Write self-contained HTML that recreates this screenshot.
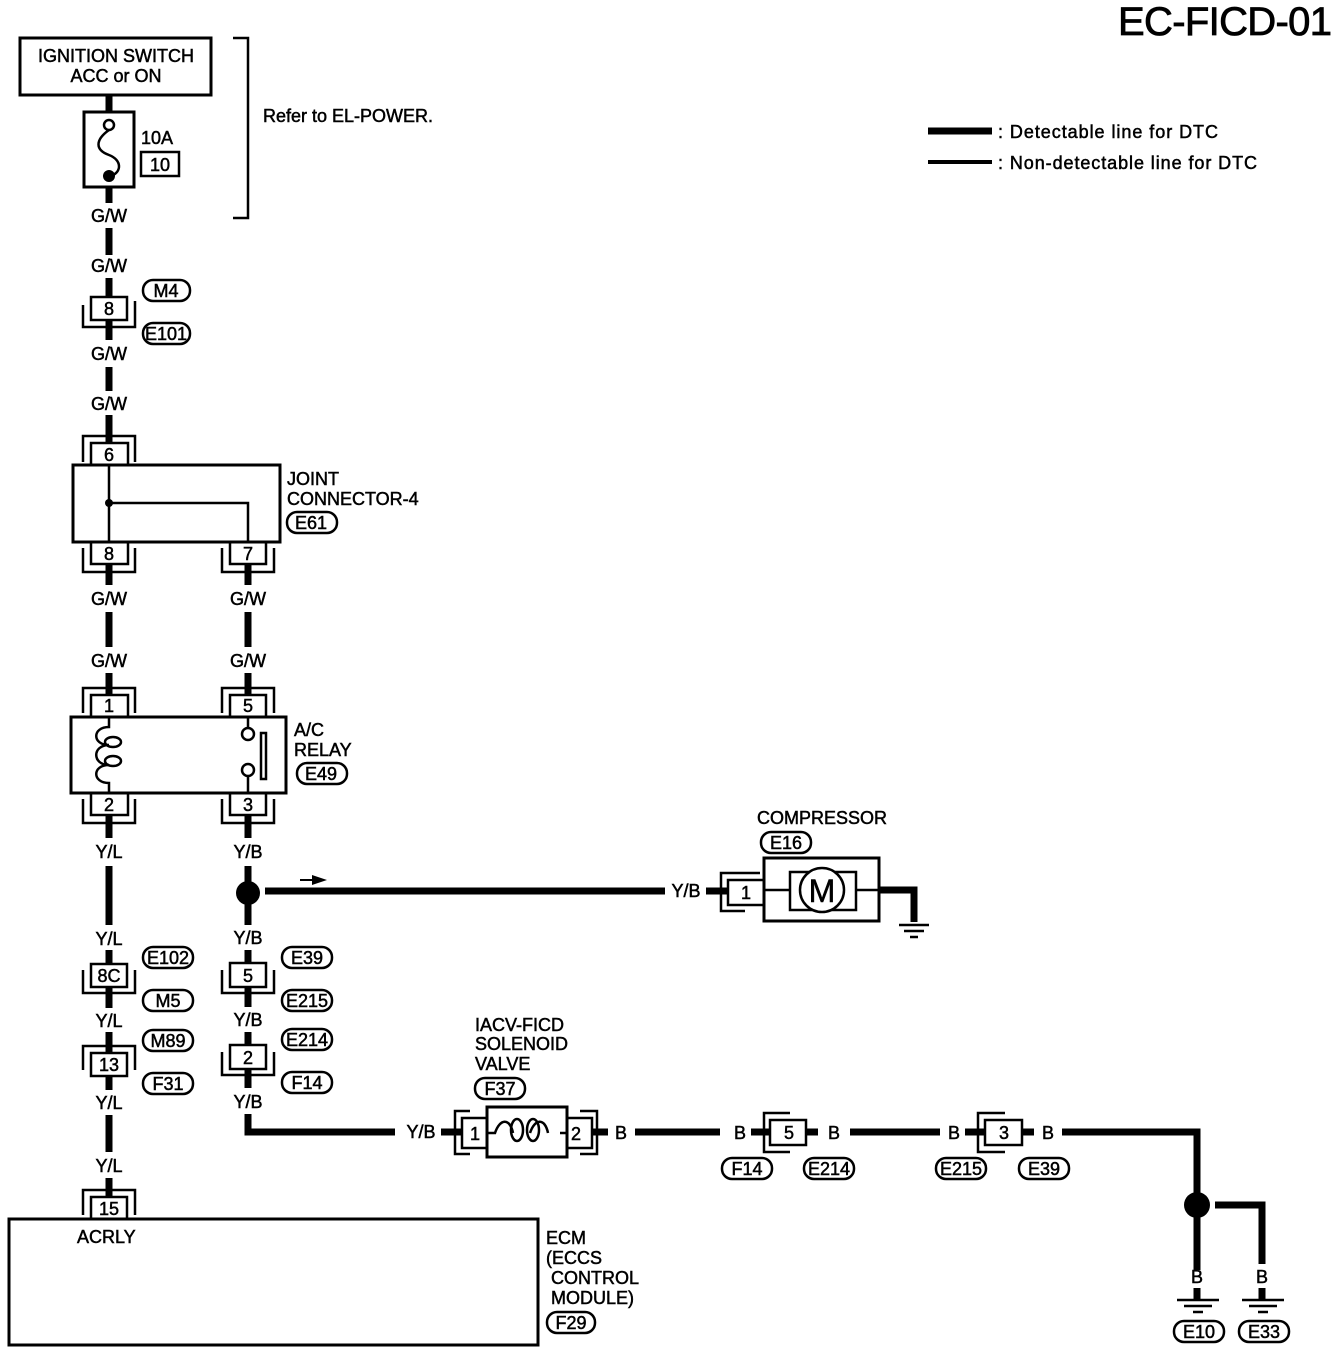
<!DOCTYPE html>
<html><head><style>
body{margin:0;background:#fff}
svg{display:block}
text{font-family:"Liberation Sans",sans-serif;font-size:18px;fill:#000;stroke:#000;stroke-width:0.5}
.t{text-anchor:middle}
</style></head><body>
<svg width="1344" height="1354" viewBox="0 0 1344 1354" xmlns="http://www.w3.org/2000/svg">
<g fill="none" stroke="#000" stroke-width="2.5">
<rect x="20" y="38" width="191" height="57" stroke-width="3"/>
<rect x="84" y="112" width="50" height="75" stroke-width="3"/>
<circle cx="109" cy="125" r="5"/>
<path d="M109 130 C95 140 95 150 109 155 C122 160 122 172 111 176"/>
<rect x="141" y="152" width="38" height="24"/>
<path d="M233 38 H248 V218 H233"/>
<rect x="91" y="297" width="36" height="23"/>
<path d="M83 305 V327 H135 V301"/>
<rect x="91" y="443" width="37" height="22"/>
<path d="M83 462 V436 H135 V462"/>
<rect x="73" y="465" width="207" height="77" stroke-width="3"/>
<path d="M109 465 V542 M109 503 H248 V542"/>
<rect x="91" y="542" width="37" height="22"/>
<path d="M83 548 V572 H135 V548"/>
<rect x="230" y="542" width="36" height="22"/>
<path d="M222 548 V572 H274 V548"/>
<rect x="91" y="695" width="37" height="22"/>
<path d="M83 713 V688 H135 V713"/>
<rect x="230" y="695" width="36" height="22"/>
<path d="M222 713 V688 H274 V713"/>
<rect x="71" y="717" width="215" height="76" stroke-width="3"/>
<path d="M109 717 V727 C92 727 92 745 109 745 C92 745 92 765 109 765 C92 765 92 783 109 783 V793"/>
<ellipse cx="113" cy="742" rx="8" ry="5"/><ellipse cx="113" cy="761" rx="8" ry="5"/>
<path d="M248 717 V728 M248 775 V793"/>
<circle cx="248" cy="734" r="6"/><circle cx="248" cy="770" r="6"/>
<rect x="261" y="733" width="5" height="46"/>
<rect x="91" y="793" width="37" height="22"/>
<path d="M83 799 V823 H135 V799"/>
<rect x="230" y="793" width="36" height="22"/>
<path d="M222 799 V823 H274 V799"/>
<rect x="91" y="964" width="36" height="23"/>
<path d="M83 970 V993 H135 V970"/>
<rect x="91" y="1053" width="36" height="23"/>
<path d="M83 1070 V1046 H135 V1070"/>
<rect x="91" y="1197" width="36" height="22"/>
<path d="M83 1215 V1190 H135 V1215"/>
<rect x="9" y="1219" width="529" height="126" stroke-width="3"/>
<rect x="230" y="963" width="36" height="24"/>
<path d="M222 970 V993 H274 V970"/>
<rect x="230" y="1045" width="36" height="24"/>
<path d="M222 1052 V1075 H274 V1052"/>
<rect x="728" y="880" width="36" height="25"/>
<path d="M760 873 H721 V911 H745"/>
<rect x="764" y="858" width="115" height="63" stroke-width="3"/>
<rect x="790" y="872" width="66" height="38"/>
<circle cx="822" cy="890" r="22" fill="#fff"/>
<path d="M764 890 H790 M856 890 H879"/>
<rect x="462" y="1118" width="25" height="30"/>
<path d="M470 1111 H455 V1154 H470"/>
<rect x="487" y="1107" width="80" height="50" stroke-width="3"/>
<path d="M487 1133 H495 C500 1118 510 1118 513 1133 M560 1133 H567 M548 1133 C545 1118 535 1118 530 1133"/>
<ellipse cx="517" cy="1130" rx="6" ry="11"/><ellipse cx="533" cy="1130" rx="6" ry="11"/>
<rect x="567" y="1118" width="25" height="30"/>
<path d="M580 1111 H597 V1154 H580"/>
<rect x="770" y="1120" width="36" height="25"/>
<path d="M790 1113 H764 V1152 H790"/>
<rect x="985" y="1120" width="37" height="25"/>
<path d="M1005 1113 H978 V1152 H1005"/>
<rect x="143" y="280" width="47" height="21" rx="10"/>
<rect x="143" y="323" width="47" height="21" rx="10"/>
<rect x="287" y="512" width="50" height="21" rx="10"/>
<rect x="297" y="763" width="50" height="21" rx="10"/>
<rect x="761" y="832" width="50" height="21" rx="10"/>
<rect x="143" y="947" width="50" height="21" rx="10"/>
<rect x="143" y="990" width="50" height="21" rx="10"/>
<rect x="143" y="1030" width="50" height="21" rx="10"/>
<rect x="143" y="1073" width="50" height="21" rx="10"/>
<rect x="282" y="947" width="50" height="21" rx="10"/>
<rect x="282" y="990" width="50" height="21" rx="10"/>
<rect x="282" y="1029" width="50" height="21" rx="10"/>
<rect x="282" y="1072" width="50" height="21" rx="10"/>
<rect x="475" y="1078" width="50" height="21" rx="10"/>
<rect x="722" y="1158" width="50" height="21" rx="10"/>
<rect x="804" y="1158" width="50" height="21" rx="10"/>
<rect x="936" y="1158" width="50" height="21" rx="10"/>
<rect x="1019" y="1158" width="50" height="21" rx="10"/>
<rect x="547" y="1312" width="48" height="21" rx="10"/>
<rect x="1174" y="1321" width="50" height="21" rx="10"/>
<rect x="1239" y="1321" width="50" height="21" rx="10"/>
<path d="M899 925 H929 M904 931 H924 M910 937 H918"/>
<path d="M1177 1300 H1219 M1184 1306 H1212 M1193 1312 H1203"/>
<path d="M1242 1300 H1284 M1249 1306 H1277 M1258 1312 H1268"/>
</g>
<g stroke="#000" stroke-width="7" fill="none">
<path d="M109 95 V112 M109 187 V203 M109 228 V255 M109 278 V297 M109 320 V340 M109 367 V391 M109 415 V443"/>
<path d="M109 565 V585 M109 612 V647 M109 673 V695 M248 565 V585 M248 612 V647 M248 673 V695"/>
<path d="M109 816 V838 M109 866 V925 M109 950 V964 M109 987 V1008 M109 1032 V1053 M109 1076 V1090 M109 1115 V1152 M109 1178 V1197"/>
<path d="M248 816 V838 M248 866 V925 M248 950 V963 M248 987 V1007 M248 1032 V1045 M248 1069 V1088"/>
<path d="M248 1114 V1132 H395 M265 891 H665 M706 891 H728 M879 890 H914 V922"/>
<path d="M441 1132 H462 M592 1132 H608 M635 1132 H720 M751 1132 H770 M806 1132 H818 M850 1132 H940 M965 1132 H985 M1022 1132 H1034 M1062 1132 H1197 V1270 M1215 1205 H1262 V1264"/>
<path d="M1197 1288 V1300 M1262 1288 V1300"/>
<path d="M928 131 H992"/>
</g>
<path d="M928 162 H992" stroke="#000" stroke-width="4"/>
<circle cx="109" cy="176" r="6"/>
<circle cx="109" cy="503" r="4"/>
<circle cx="248" cy="893" r="12"/>
<circle cx="1197" cy="1205" r="13"/>
<path d="M300 880 H315" stroke="#000" stroke-width="2"/>
<path d="M312 875 L327 880 L312 885 Z"/>
<text x="1118" y="35" style="font-size:40px;stroke-width:0.8" textLength="214">EC-FICD-01</text>
<text x="116" y="62" class="t">IGNITION SWITCH</text>
<text x="116" y="82" class="t">ACC or ON</text>
<text x="141" y="144">10A</text>
<text x="160" y="171" class="t">10</text>
<text x="263" y="122">Refer to EL-POWER.</text>
<text x="998" y="138" textLength="220">: Detectable line for DTC</text>
<text x="998" y="169" textLength="259">: Non-detectable line for DTC</text>
<g>
<text x="109" y="222" class="t">G/W</text>
<text x="109" y="272" class="t">G/W</text>
<text x="109" y="315" class="t">8</text>
<text x="109" y="360" class="t">G/W</text>
<text x="109" y="410" class="t">G/W</text>
<text x="109" y="461" class="t">6</text>
<text x="109" y="560" class="t">8</text>
<text x="248" y="560" class="t">7</text>
<text x="109" y="605" class="t">G/W</text>
<text x="248" y="605" class="t">G/W</text>
<text x="109" y="667" class="t">G/W</text>
<text x="248" y="667" class="t">G/W</text>
<text x="109" y="712" class="t">1</text>
<text x="248" y="712" class="t">5</text>
<text x="109" y="811" class="t">2</text>
<text x="248" y="811" class="t">3</text>
<text x="109" y="858" class="t">Y/L</text>
<text x="248" y="858" class="t">Y/B</text>
<text x="109" y="945" class="t">Y/L</text>
<text x="109" y="982" class="t">8C</text>
<text x="109" y="1027" class="t">Y/L</text>
<text x="109" y="1071" class="t">13</text>
<text x="109" y="1109" class="t">Y/L</text>
<text x="109" y="1172" class="t">Y/L</text>
<text x="109" y="1215" class="t">15</text>
<text x="248" y="944" class="t">Y/B</text>
<text x="248" y="982" class="t">5</text>
<text x="248" y="1026" class="t">Y/B</text>
<text x="248" y="1064" class="t">2</text>
<text x="248" y="1108" class="t">Y/B</text>
<text x="686" y="897" class="t">Y/B</text>
<text x="746" y="899" class="t">1</text>
<text x="822" y="902" class="t" style="font-size:32px">M</text>
<text x="421" y="1138" class="t">Y/B</text>
<text x="475" y="1140" class="t">1</text>
<text x="576" y="1140" class="t">2</text>
<text x="621" y="1139" class="t">B</text>
<text x="740" y="1139" class="t">B</text>
<text x="789" y="1139" class="t">5</text>
<text x="834" y="1139" class="t">B</text>
<text x="954" y="1139" class="t">B</text>
<text x="1004" y="1139" class="t">3</text>
<text x="1048" y="1139" class="t">B</text>
<text x="1197" y="1283" class="t">B</text>
<text x="1262" y="1283" class="t">B</text>
<text x="166" y="297" class="t">M4</text>
<text x="166" y="340" class="t">E101</text>
<text x="311" y="529" class="t">E61</text>
<text x="321" y="780" class="t">E49</text>
<text x="786" y="849" class="t">E16</text>
<text x="168" y="964" class="t">E102</text>
<text x="168" y="1007" class="t">M5</text>
<text x="168" y="1047" class="t">M89</text>
<text x="168" y="1090" class="t">F31</text>
<text x="307" y="964" class="t">E39</text>
<text x="307" y="1007" class="t">E215</text>
<text x="307" y="1046" class="t">E214</text>
<text x="307" y="1089" class="t">F14</text>
<text x="500" y="1095" class="t">F37</text>
<text x="747" y="1175" class="t">F14</text>
<text x="829" y="1175" class="t">E214</text>
<text x="961" y="1175" class="t">E215</text>
<text x="1044" y="1175" class="t">E39</text>
<text x="571" y="1329" class="t">F29</text>
<text x="1199" y="1338" class="t">E10</text>
<text x="1264" y="1338" class="t">E33</text>
</g>
<text x="287" y="485">JOINT</text>
<text x="287" y="505">CONNECTOR-4</text>
<text x="294" y="736">A/C</text>
<text x="294" y="756">RELAY</text>
<text x="757" y="824">COMPRESSOR</text>
<text x="475" y="1031">IACV-FICD</text>
<text x="475" y="1050">SOLENOID</text>
<text x="475" y="1070">VALVE</text>
<text x="77" y="1243">ACRLY</text>
<text x="546" y="1244">ECM</text>
<text x="546" y="1264">(ECCS</text>
<text x="551" y="1284">CONTROL</text>
<text x="551" y="1304">MODULE)</text>
</svg>
</body></html>
